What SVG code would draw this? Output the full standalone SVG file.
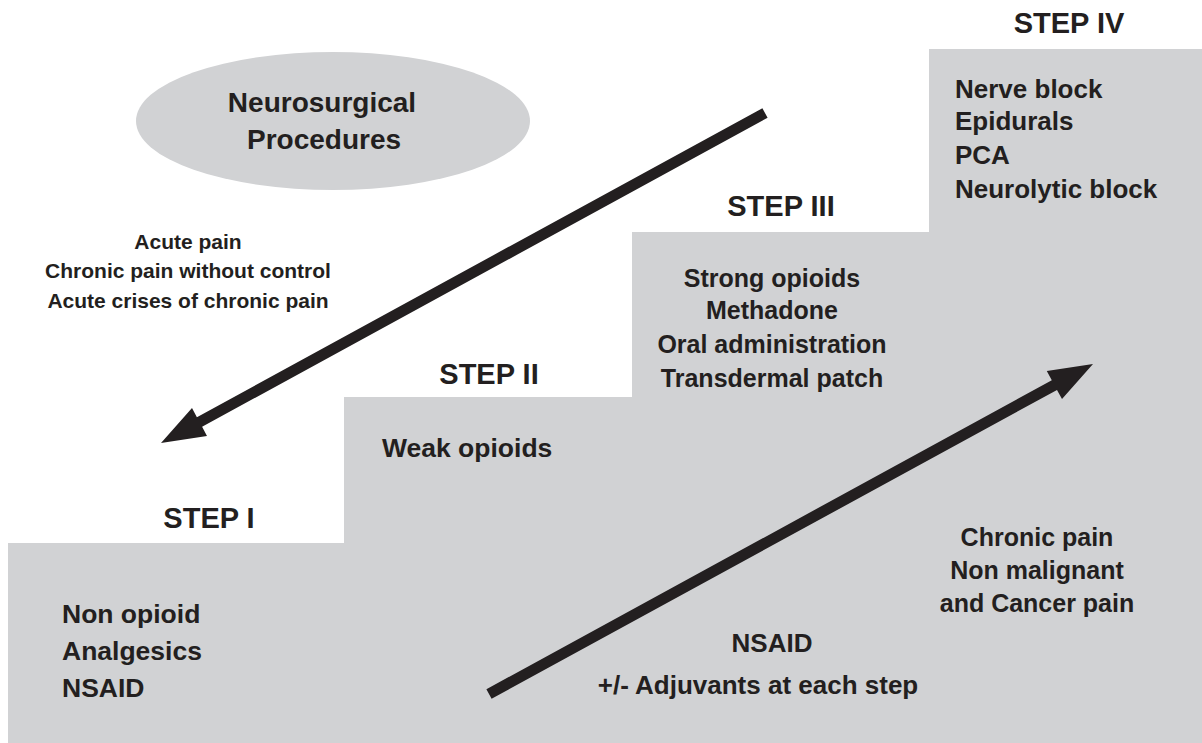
<svg xmlns="http://www.w3.org/2000/svg" width="1202" height="743" viewBox="0 0 1202 743">
<style>
text{font-family:"Liberation Sans",Arial,sans-serif;font-weight:bold;fill:#231f20}
.step{font-size:29px;text-anchor:middle}
.t{font-size:25px}
.tl{font-size:26.5px}
.tm{font-size:26px}
.h{font-size:28px}
.c{text-anchor:middle}
.s{font-size:21px}
.arr{fill:#231f20}
.gray{fill:#d1d2d4}
</style>
<rect width="1202" height="743" fill="#ffffff"/>
<g id="stairs">
<polygon class="gray" points="8,743 8,543 344,543 344,397 632,397 632,232 929,232 929,49 1202,49 1202,743"/>
</g>
<g id="neurosurgical">
<ellipse class="gray" cx="333" cy="121" rx="197" ry="69"/>
<text class="h c" x="322" y="112">Neurosurgical</text>
<text class="h c" x="324" y="149">Procedures</text>
</g>
<g id="acute">
<text class="s c" x="188" y="249">Acute pain</text>
<text class="s c" x="188" y="278">Chronic pain without control</text>
<text class="s c" x="188" y="308">Acute crises of chronic pain</text>
</g>
<g id="step1">
<text class="step" x="209" y="528">STEP I</text>
<text class="tl" x="62" y="623">Non opioid</text>
<text class="tl" x="62" y="660">Analgesics</text>
<text class="tl" x="62" y="697">NSAID</text>
</g>
<g id="step2">
<text class="step" x="489" y="384">STEP II</text>
<text class="tl" x="382" y="457">Weak opioids</text>
</g>
<g id="step3">
<text class="step" x="781" y="216">STEP III</text>
<text class="t c" x="772" y="287">Strong opioids</text>
<text class="t c" x="772" y="319">Methadone</text>
<text class="t c" x="772" y="353">Oral administration</text>
<text class="t c" x="772" y="387">Transdermal patch</text>
</g>
<g id="step4">
<text class="step" x="1069" y="33">STEP IV</text>
<text class="tm" x="955" y="98">Nerve block</text>
<text class="tm" x="955" y="130">Epidurals</text>
<text class="tm" x="955" y="164">PCA</text>
<text class="tm" x="955" y="198">Neurolytic block</text>
</g>
<g id="chronic">
<text class="t c" x="1037" y="546">Chronic pain</text>
<text class="t c" x="1037" y="579">Non malignant</text>
<text class="t c" x="1037" y="612">and Cancer pain</text>
</g>
<g id="nsaid">
<text class="tm c" x="772" y="652">NSAID</text>
<text class="tm c" x="758" y="694">+/- Adjuvants at each step</text>
</g>
<g id="connectors">
<polygon class="arr" points="767.6,117.8 762.4,108.2 196.9,417.2 192,408 161,443 207,436 202.1,426.8"/>
<polygon class="arr" points="486.4,689.2 1051.8,380.3 1046.8,371.1 1093,364 1062,399.1 1057,389.9 491.6,698.8"/>
</g>
</svg>
